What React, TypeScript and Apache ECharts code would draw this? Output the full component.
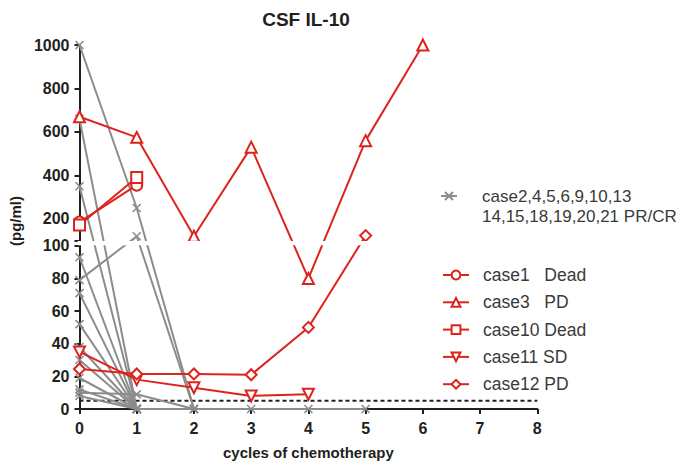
import React, { useEffect, useRef } from 'react';
import * as echarts from 'echarts';

// ---- data ----
const cycles = [0, 1, 2, 3, 4, 5, 6, 7, 8];
const yLowTicks = [0, 20, 40, 60, 80, 100];
const yHighTicks = [200, 400, 600, 800, 1000];
const detectionLimit = 5;

// axis break: 0-100 linear (lower segment), 100-1000 compressed (upper segment)
const BREAK_AT = 100;
const BREAK_GAP = 3.2;
const HIGH_SCALE = 0.1332;

const GRAY_NAME = 'case2,4,5,6,9,10,13\n14,15,18,19,20,21 PR/CR';
const grayCases: number[][] = [
  [1000, 250, 0, 0, 0, 0],
  [660, 0, 0],
  [350, 0],
  [93, 0],
  [79, 120, 0],
  [71, 0],
  [52, 0],
  [38, 0],
  [30, 0],
  [19, 0],
  [10, 9, 0],
  [8, 0],
  [12, 0],
];

const redNames = ['case1   Dead', 'case3   PD', 'case10 Dead', 'case11 SD', 'case12 PD'];
const case1 = [185, 355];
const case3 = [670, 575, 120, 530, 80, 560, 1000];
const case10 = [172, 390];
const case11 = [35, 18, 13, 8, 9];
const case12 = [24.5, 21.5, 21.5, 21, 50, 123];
const redValues = [case1, case3, case10, case11, case12];
const redSymbols = ['emptyCircle', 'emptyTriangle', 'emptyRect', 'emptyTriangle', 'emptyDiamond'];
const redRotates = [0, 0, 0, 180, 0];

// ---- helpers ----
const tf = (v: number) => (v <= BREAK_AT ? v : BREAK_AT + BREAK_GAP + (v - BREAK_AT) * HIGH_SCALE);
const inv = (d: number) => (d <= BREAK_AT + 0.5 ? d : BREAK_AT + (d - BREAK_AT - BREAK_GAP) / HIGH_SCALE);

const FONT = 'Liberation Sans, Arial, Helvetica, sans-serif';
const GRAY = '#8c8c8c';
const RED = '#dc241c';
const AXIS = '#231f20';
const X_PATH = 'path://M0,0L10,10M10,0L0,10';

export default function App() {
  const ref = useRef<HTMLDivElement>(null);
  useEffect(() => {
    if (!ref.current) return;
    const chart = echarts.init(ref.current, undefined, { renderer: 'svg' });
    const labelValues = [...yLowTicks, ...yHighTicks].map(tf);
    const tickValues = [...labelValues, BREAK_AT + BREAK_GAP];

    const graySeries = grayCases.map((vals) => ({
      type: 'line',
      name: GRAY_NAME,
      data: vals.map((v, i) => [cycles[i], tf(v)]),
      symbol: X_PATH,
      symbolSize: 8,
      lineStyle: { color: GRAY, width: 2 },
      itemStyle: { color: GRAY, borderColor: GRAY, borderWidth: 1.6 },
      z: 2,
    }));

    const redSeries = redNames.map((name, k) => ({
      type: 'line',
      name,
      data: redValues[k].map((v, i) => [cycles[i], tf(v)]),
      symbol: redSymbols[k],
      symbolRotate: redRotates[k],
      symbolSize: 11,
      lineStyle: { color: RED, width: 2 },
      itemStyle: { color: RED, borderWidth: 1.5 },
      z: 3,
    }));

    const option: any = {
      animation: false,
      backgroundColor: '#fff',
      title: {
        text: 'CSF IL-10',
        left: 301,
        top: 5,
        textAlign: 'center',
        textStyle: { fontFamily: FONT, fontSize: 19, fontWeight: 'bold', color: AXIS },
      },
      legend: [
        {
          data: [GRAY_NAME],
          left: 440,
          top: 166,
          orient: 'vertical',
          padding: 0,
          itemWidth: 16,
          itemHeight: 10,
          selectedMode: false,
          formatter: (name: string) => ' \n' + name,
          textStyle: { fontFamily: FONT, fontSize: 17, lineHeight: 20, color: '#3a3a3a', padding: [0, 0, 0, 20] },
        },
        {
          data: redNames,
          left: 442,
          top: 266,
          orient: 'vertical',
          padding: 0,
          itemGap: 9.3,
          itemWidth: 26,
          itemHeight: 11,
          selectedMode: false,
          textStyle: { fontFamily: FONT, fontSize: 17.5, lineHeight: 18, color: '#3a3a3a', padding: [0, 0, 0, 9] },
        },
      ],
      grid: { left: 72, top: 45, width: 465.3, height: 364.3, containLabel: false },
      xAxis: {
        type: 'value',
        min: 0,
        max: 8,
        interval: 1,
        name: 'cycles of chemotherapy',
        nameLocation: 'middle',
        nameGap: 36,
        nameTextStyle: { fontFamily: FONT, fontSize: 15, fontWeight: 'bold', color: AXIS },
        axisLine: { lineStyle: { color: AXIS, width: 2 } },
        axisTick: { length: 5, lineStyle: { color: AXIS, width: 2 } },
        axisLabel: { fontFamily: FONT, fontSize: 16, fontWeight: 'bold', color: AXIS, margin: 11 },
        splitLine: { show: false },
      },
      yAxis: {
        type: 'value',
        min: 0,
        max: tf(1000),
        name: '(pg/ml)',
        nameLocation: 'middle',
        nameRotate: 90,
        nameGap: 48,
        nameTextStyle: { fontFamily: FONT, fontSize: 15, fontWeight: 'bold', color: AXIS, padding: [0, 0, 0, 12] },
        axisLine: { show: true, lineStyle: { color: AXIS, width: 2 } },
        axisTick: { show: true, length: 5, customValues: tickValues, lineStyle: { color: AXIS, width: 2 } },
        axisLabel: {
          fontFamily: FONT,
          fontSize: 16,
          fontWeight: 'bold',
          color: AXIS,
          margin: 10,
          customValues: labelValues,
          formatter: (val: number) => String(Math.round(inv(val))),
        },
        splitLine: { show: false },
      },
      series: [
        ...graySeries,
        ...redSeries,
        {
          type: 'line',
          name: 'limit',
          data: [
            [cycles[0], detectionLimit],
            [cycles[cycles.length - 1], detectionLimit],
          ],
          symbol: 'none',
          lineStyle: { color: AXIS, width: 2, type: [4, 3] },
          z: 1,
          silent: true,
        },
        {
          type: 'custom',
          name: 'break',
          silent: true,
          clip: false,
          z: 10,
          data: [[cycles[0], cycles[cycles.length - 1]]],
          renderItem: (params: any, api: any) => {
            const p1 = api.coord([api.value(0), BREAK_AT + BREAK_GAP - 0.3]);
            const p2 = api.coord([api.value(1), BREAK_AT + 0.3]);
            return {
              type: 'rect',
              shape: { x: p1[0] - 2, y: p1[1], width: p2[0] - p1[0] + 2, height: p2[1] - p1[1] },
              style: { fill: '#fff' },
            };
          },
        },
      ],
    };
    chart.setOption(option);
    return () => chart.dispose();
  }, []);
  return (
    <div
      ref={ref}
      style={{ position: 'absolute', left: 0, top: 0, width: 700, height: 465, background: '#fff' }}
    />
  );
}
